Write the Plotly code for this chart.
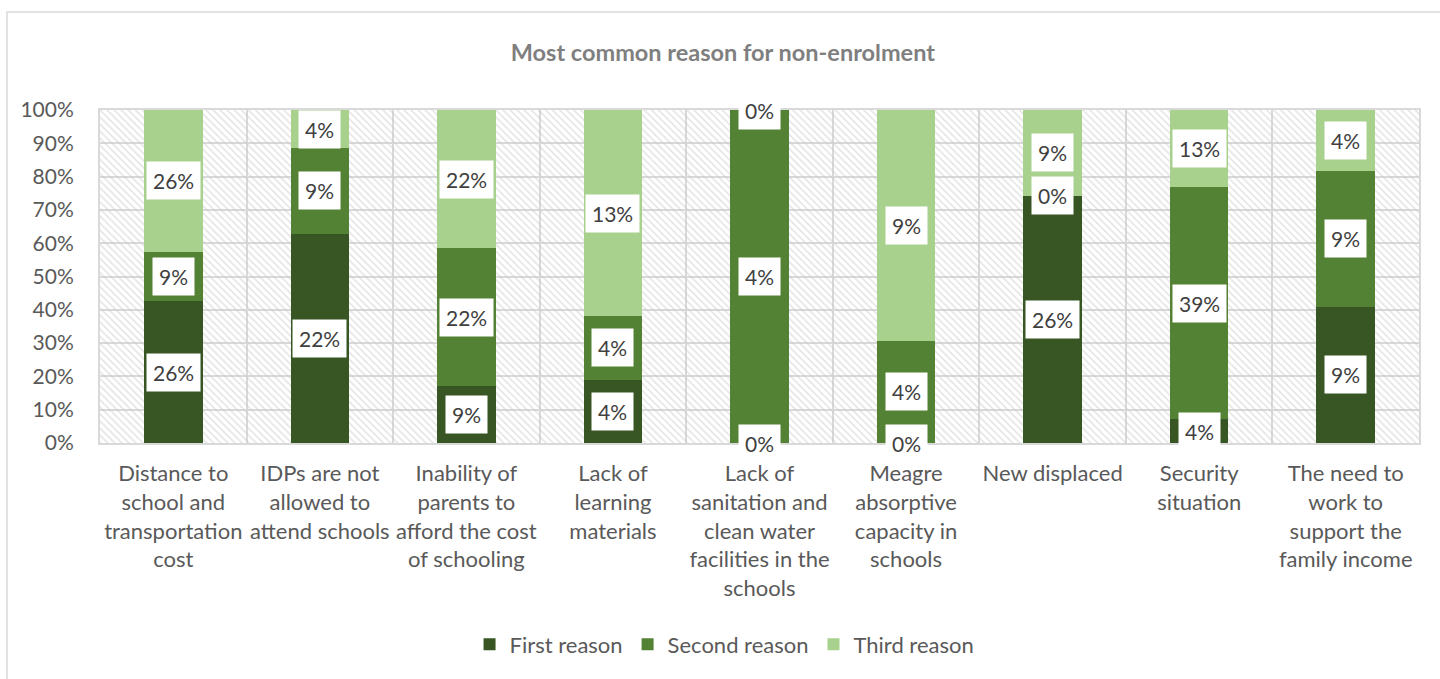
import plotly.graph_objects as go

categories = [
    "Distance to<br>school and<br>transportation<br>cost",
    "IDPs are not<br>allowed to<br>attend schools",
    "Inability of<br>parents to<br>afford the cost<br>of schooling",
    "Lack of<br>learning<br>materials",
    "Lack of<br>sanitation and<br>clean water<br>facilities in the<br>schools",
    "Meagre<br>absorptive<br>capacity in<br>schools",
    "New displaced",
    "Security<br>situation",
    "The need to<br>work to<br>support the<br>family income",
]
first_reason = [26, 22, 9, 4, 0, 0, 26, 4, 9]
second_reason = [9, 9, 22, 4, 4, 4, 0, 39, 9]
third_reason = [26, 4, 22, 13, 0, 9, 9, 13, 4]
series_names = ["First reason", "Second reason", "Third reason"]
series_colors = ["#375623", "#548235", "#A9D18E"]
y_ticks = [0, 10, 20, 30, 40, 50, 60, 70, 80, 90, 100]
y_tick_labels = [f"{t}%" for t in y_ticks]

FONT = "Lato"
series = [first_reason, second_reason, third_reason]

fig = go.Figure()

# hatched plot-area background (base axes, hidden)
fig.add_trace(go.Bar(
    x=[0.5], y=[1], width=[1], xaxis="x", yaxis="y",
    marker=dict(color="rgba(0,0,0,0)", line=dict(width=0),
                pattern=dict(shape="\\", fgcolor="#c8c8c8", bgcolor="rgba(0,0,0,0)",
                             size=5, solidity=0.3)),
    showlegend=False, hoverinfo="skip",
))

for name, vals, col in zip(series_names, series, series_colors):
    fig.add_trace(go.Bar(
        x=categories, y=vals, name=name, xaxis="x2", yaxis="y2",
        marker=dict(color=col, line=dict(width=0)),
    ))

# data labels in white boxes at segment centres
annotations = []
for j, cat in enumerate(categories):
    total = sum(s[j] for s in series)
    cum = 0.0
    for s in series:
        v = s[j]
        pct = 100.0 * v / total if total else 0
        annotations.append(dict(
            x=cat, y=cum + pct / 2, xref="x2", yref="y2",
            text=f"{v}%", showarrow=False,
            font=dict(family=FONT, size=21, color="#404040"),
            bgcolor="white", borderpad=6,
        ))
        cum += pct

fig.update_layout(
    width=1440, height=679,
    margin=dict(l=100, r=21, t=110, b=236),
    paper_bgcolor="white", plot_bgcolor="white",
    barmode="stack", barnorm="percent", bargap=0.6,
    title=dict(text="<b>Most common reason for non-enrolment</b>",
               x=0.502, xanchor="center", y=0.922, yanchor="middle",
               font=dict(family=FONT, size=23.5, color="#7f7f7f")),
    xaxis=dict(range=[0, 1], visible=False, fixedrange=True),
    yaxis=dict(range=[0, 1], visible=False, fixedrange=True),
    xaxis2=dict(overlaying="x", type="category", tickson="boundaries",
                showgrid=True, gridcolor="#d9d9d9", gridwidth=2,
                showline=True, linecolor="#d9d9d9", linewidth=2, mirror=True,
                ticks="", ticklabelstandoff=10, tickangle=0,
                tickfont=dict(family=FONT, size=22, color="#595959")),
    yaxis2=dict(overlaying="y", range=[0, 100], tickmode="array",
                tickvals=y_ticks, ticktext=y_tick_labels,
                showgrid=True, gridcolor="#d9d9d9", gridwidth=2,
                showline=True, linecolor="#d9d9d9", linewidth=2, mirror=True,
                ticks="", ticklabelstandoff=20, zeroline=False,
                tickfont=dict(family=FONT, size=21, color="#595959")),
    legend=dict(orientation="h", x=0.4735, xanchor="center", y=-0.605, yanchor="middle",
                font=dict(family=FONT, size=22, color="#595959"),
                traceorder="normal", itemwidth=30),
    annotations=annotations,
    shapes=[dict(type="rect", xref="paper", yref="paper",
                 x0=(7 - 100) / 1319, x1=(1445 - 100) / 1319,
                 y0=(443 - 700) / 333, y1=(443 - 12) / 333,
                 line=dict(color="#d9d9d9", width=1.5), layer="below")],
)

fig.write_html("out.html")
